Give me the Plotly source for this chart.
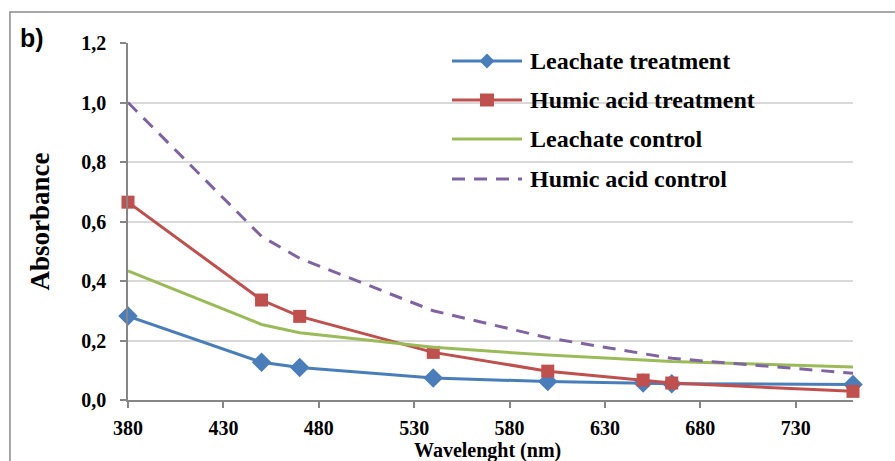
import plotly.graph_objects as go

wavelength = [380, 450, 470, 540, 600, 650, 665, 760]
leachate_treatment = [0.282, 0.127, 0.109, 0.074, 0.062, 0.057, 0.055, 0.052]
humic_treatment = [0.665, 0.336, 0.281, 0.160, 0.097, 0.067, 0.057, 0.029]
leachate_control = [0.434, 0.254, 0.226, 0.177, 0.151, 0.134, 0.129, 0.111]
humic_control = [1.0, 0.55, 0.476, 0.30, 0.209, 0.157, 0.140, 0.090]

x_ticks = [380, 430, 480, 530, 580, 630, 680, 730]
y_ticks = [0.0, 0.2, 0.4, 0.6, 0.8, 1.0, 1.2]

names = ["Leachate treatment", "Humic acid treatment", "Leachate control", "Humic acid control"]
colors = ["#4A7EBB", "#C0504D", "#9BBB59", "#8064A2"]
DASH = "13px,9px"

fig = go.Figure()
fig.add_trace(go.Scatter(x=wavelength, y=leachate_treatment, name=names[0],
                         mode="lines+markers", line=dict(color=colors[0], width=3),
                         marker=dict(symbol="diamond", size=15, color=colors[0]), cliponaxis=False))
fig.add_trace(go.Scatter(x=wavelength, y=humic_treatment, name=names[1],
                         mode="lines+markers", line=dict(color=colors[1], width=3),
                         marker=dict(symbol="square", size=13, color=colors[1]), cliponaxis=False))
fig.add_trace(go.Scatter(x=wavelength, y=leachate_control, name=names[2],
                         mode="lines", line=dict(color=colors[2], width=3), cliponaxis=False))
fig.add_trace(go.Scatter(x=wavelength, y=humic_control, name=names[3],
                         mode="lines", line=dict(color=colors[3], width=3, dash=DASH), cliponaxis=False))

serif = "Liberation Serif, Times New Roman, serif"
fig.update_layout(
    width=895, height=461,
    margin=dict(l=128, r=42, t=43, b=61),
    paper_bgcolor="white", plot_bgcolor="white",
    separators=",.",
    font=dict(family=serif, color="black"),
    showlegend=False,
    xaxis=dict(range=[380, 760], tickvals=x_ticks, ticks="outside", ticklen=6, tickwidth=1.5,
               tickcolor="#868686", showline=True, linecolor="#868686", linewidth=1.5,
               showgrid=False, zeroline=False, ticklabelstandoff=3, automargin=False,
               tickfont=dict(family=serif, size=20, weight="bold")),
    yaxis=dict(range=[0, 1.2], tickvals=y_ticks, tickformat=".1f", ticks="outside", ticklen=6,
               tickwidth=1.5, tickcolor="#868686", showline=True, linecolor="#868686", linewidth=1.5,
               showgrid=True, gridcolor="#D9D9D9", gridwidth=1.5, zeroline=False,
               ticklabelstandoff=10, automargin=False,
               tickfont=dict(family=serif, size=20, weight="bold"),
               title=dict(text="Absorbance", standoff=24,
                          font=dict(family=serif, size=27, weight="bold"))),
)

def px2x(p):
    return (p - 128) / 725.0

def py2y(p):
    return (400 - p) / 357.0

# x axis title
fig.add_annotation(text="<b>Wavelenght (nm)</b>", xref="paper", yref="paper", x=px2x(487), y=py2y(450),
                   xanchor="center", yanchor="middle", showarrow=False,
                   font=dict(family=serif, size=20, color="black"))

# outer chart border
fig.add_shape(type="rect", xref="paper", yref="paper", x0=-0.1628, y0=-0.4, x1=1.3, y1=1.087,
              line=dict(color="#8C8C8C", width=1.5), fillcolor="rgba(0,0,0,0)", layer="below")
fig.add_annotation(text="<b>b)</b>", xref="paper", yref="paper", x=-0.152, y=1.015,
                   xanchor="left", yanchor="middle", showarrow=False,
                   font=dict(family="Liberation Sans, Arial, sans-serif", size=25, color="black"))

# legend (drawn manually to reproduce the long Excel legend keys)
row_y = [61, 100, 139, 179]
lx0, lx1, ltext = 452, 522, 528
for i, name in enumerate(names):
    yy = py2y(row_y[i])
    dash = DASH if i == 3 else "solid"
    fig.add_shape(type="line", xref="paper", yref="paper", x0=px2x(lx0), x1=px2x(lx1), y0=yy, y1=yy,
                  line=dict(color=colors[i], width=3, dash=dash))
    fig.add_annotation(text="<b>" + name + "</b>", xref="paper", yref="paper", x=px2x(ltext), y=yy,
                       xanchor="left", yanchor="middle", showarrow=False,
                       font=dict(family=serif, size=24, color="black"))

cx = 487
cy = row_y[0]
fig.add_shape(type="path", xref="paper", yref="paper",
              path="M {} {} L {} {} L {} {} L {} {} Z".format(
                  px2x(cx), py2y(cy - 7.5), px2x(cx + 7.5), py2y(cy), px2x(cx), py2y(cy + 7.5),
                  px2x(cx - 7.5), py2y(cy)),
              line=dict(width=0), fillcolor=colors[0])
cy = row_y[1]
fig.add_shape(type="rect", xref="paper", yref="paper",
              x0=px2x(cx - 7), x1=px2x(cx + 7), y0=py2y(cy + 6.5), y1=py2y(cy - 6.5),
              line=dict(width=0), fillcolor=colors[1])

fig.write_html("out.html")
